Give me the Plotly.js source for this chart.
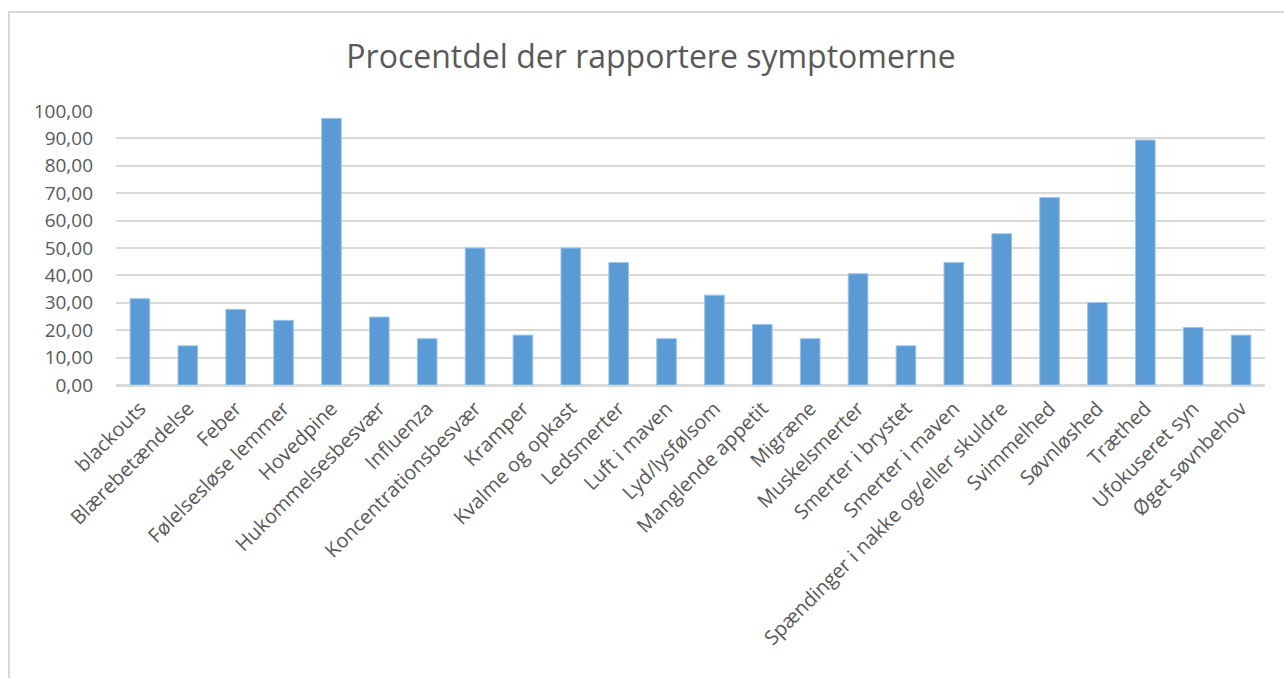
<!DOCTYPE html>
<html>
<head>
<meta charset="utf-8">
<script src="https://cdn.plot.ly/plotly-3.0.1.min.js"></script>
<style>
  html, body { margin: 0; padding: 0; background: #fff; }
  #wrap { position: relative; width: 1284px; height: 678px; overflow: hidden; }
  #chart { position: absolute; left: 0; top: 0; width: 1284px; height: 678px; }
  #frame { position: absolute; left: 8px; top: 11px; width: 1290px; height: 680px;
           border-top: 2px solid #D9D9D9; border-left: 2px solid #D9D9D9; pointer-events: none; }
</style>
</head>
<body>
<div id="wrap">
  <div id="chart"></div>
  <div id="frame"></div>
</div>
<script>
const categories = [
  "blackouts", "Blærebetændelse", "Feber", "Følelsesløse lemmer", "Hovedpine",
  "Hukommelsesbesvær", "Influenza", "Koncentrationsbesvær", "Kramper", "Kvalme og opkast",
  "Ledsmerter", "Luft i maven", "Lyd/lysfølsom", "Manglende appetit", "Migræne",
  "Muskelsmerter", "Smerter i brystet", "Smerter i maven", "Spændinger i nakke og/eller skuldre",
  "Svimmelhed", "Søvnløshed", "Træthed", "Ufokuseret syn", "Øget søvnbehov"
];
const values = [
  31.5, 14.3, 27.6, 23.6, 97.3,
  24.8, 16.9, 50.0, 18.2, 50.0,
  44.7, 16.9, 32.8, 22.1, 16.9,
  40.6, 14.3, 44.7, 55.2,
  68.4, 30.1, 89.4, 21.0, 18.2
];
const yTicks = [0, 10, 20, 30, 40, 50, 60, 70, 80, 90, 100];
const titleText = "Procentdel der rapportere symptomerne";

const trace = {
  type: "bar",
  x: categories,
  y: values,
  marker: { color: "#5B9BD5", line: { color: "#9DC3E6", width: 1 } },
  hoverinfo: "x+y"
};

const layout = {
  width: 1284,
  height: 678,
  separators: ",.",
  paper_bgcolor: "#ffffff",
  plot_bgcolor: "#ffffff",
  margin: { l: 116, r: 19, t: 111, b: 293 },
  bargap: 0.59,
  showlegend: false,
  font: { family: "Open Sans, Noto Sans, sans-serif", color: "#595959" },
  title: {
    text: titleText,
    font: { family: "Open Sans, Noto Sans, sans-serif", size: 32, color: "#595959" },
    x: 0.507, xanchor: "center",
    y: 1 - 57 / 678, yanchor: "middle"
  },
  xaxis: {
    type: "category",
    tickangle: -45,
    tickfont: { size: 20, color: "#595959" },
    showgrid: false,
    showline: true,
    linecolor: "#D9D9D9",
    linewidth: 2,
    ticks: "",
    ticklabelstandoff: 2,
    automargin: false
  },
  yaxis: {
    range: [0, 100],
    tickvals: yTicks,
    tickformat: ".2f",
    tickfont: { size: 19, color: "#595959" },
    showgrid: true,
    gridcolor: "#D9D9D9",
    gridwidth: 2,
    zeroline: true,
    zerolinecolor: "#D9D9D9",
    zerolinewidth: 2,
    showline: false,
    ticks: "",
    ticklabelstandoff: 22,
    automargin: false
  }
};

Plotly.newPlot("chart", [trace], layout, { displayModeBar: false, staticPlot: true });
</script>
</body>
</html>
